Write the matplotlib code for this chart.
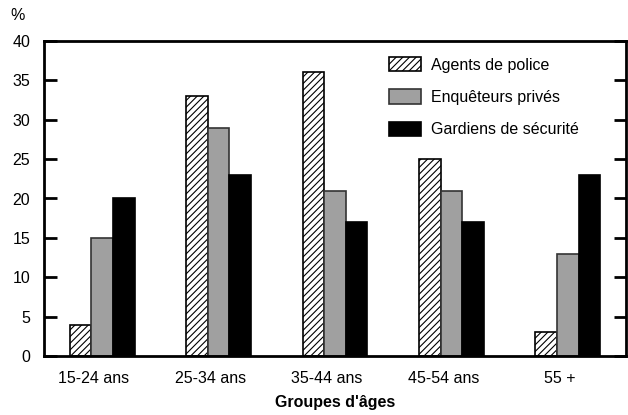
import matplotlib
matplotlib.use("Agg")
import matplotlib.pyplot as plt
import numpy as np

plt.rcParams['font.family'] = ['Liberation Sans', 'DejaVu Sans']
plt.rcParams['hatch.linewidth'] = 0.8

categories = ["15-24 ans", "25-34 ans", "35-44 ans", "45-54 ans", "55 +"]
series_names = ["Agents de police", "Enquêteurs privés", "Gardiens de sécurité"]
police = [4, 33, 36, 25, 3]
enqueteurs = [15, 29, 21, 21, 13]
gardiens = [20, 23, 17, 17, 23]
yticks = [0, 5, 10, 15, 20, 25, 30, 35, 40]

fig = plt.figure(figsize=(6.28, 4.15), dpi=100)
ax = fig.add_axes([44/628, 59/415, (626-44)/628, (356-41)/415])

x = np.arange(len(categories))
w = 0.185
ax.bar(x - w, police, w, facecolor='white', edgecolor='black', hatch='/////', linewidth=1.2, label=series_names[0])
ax.bar(x, enqueteurs, w, facecolor='#a0a0a0', edgecolor='#333333', linewidth=1.2, label=series_names[1])
ax.bar(x + w, gardiens, w, facecolor='black', edgecolor='black', linewidth=1.2, label=series_names[2])

ax.set_xlim(-0.5, 4.5)
ax.set_ylim(0, 40)
ax.set_yticks(yticks)
ax.set_xticks(x - 0.07)
ax.set_xticklabels(categories, fontsize=11.5)
ax.tick_params(axis='x', length=0, pad=11)
ax.tick_params(axis='y', direction='in', length=9, width=2, right=True, labelsize=11.5, pad=10)
for s in ax.spines.values():
    s.set_linewidth(2)

ax.set_xlabel("Groupes d'âges", fontsize=11.5, fontweight='bold', labelpad=6)
fig.text(10/628, 1 - 16/415, "%", fontsize=11.5, va='center', ha='left')

leg = ax.legend(loc='upper right', bbox_to_anchor=(0.943, 0.995), frameon=False, fontsize=11.5,
                handlelength=2.0, handleheight=1.0, handletextpad=0.6, labelspacing=1.05)

fig.savefig("out.png", dpi=100)
